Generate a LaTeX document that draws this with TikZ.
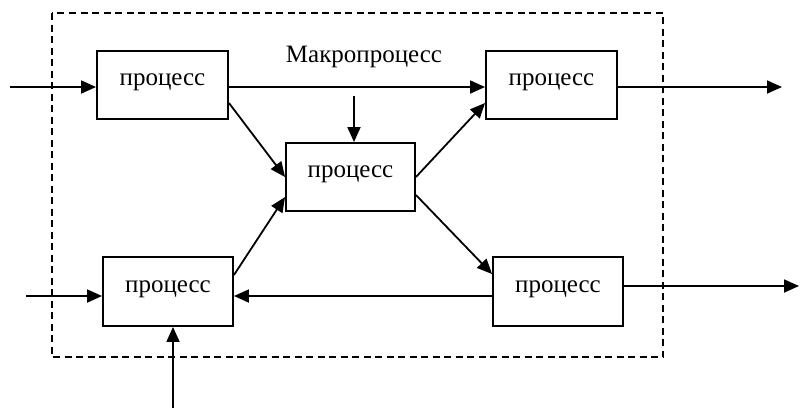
\documentclass[tikz,border=0pt]{standalone}
\usepackage{fontspec}
\setmainfont{Liberation Serif}
\usetikzlibrary{arrows.meta,calc}
\begin{document}
\begin{tikzpicture}[x=1pt,y=-1pt,
  proc/.style={draw,line width=1.9pt,rectangle,minimum width=131pt,minimum height=68pt,
    inner sep=0pt,text height=11.5pt,text depth=10pt,font=\fontsize{25}{30}\selectfont},
  arr/.style={line width=1.8pt,-{Triangle[length=15pt,width=13pt]}},
  frame/.style={line width=1.8pt,dash pattern=on 7pt off 4.5pt}]
\useasboundingbox (0,0) rectangle (800,408);
\draw[frame] (52,13) rectangle (663,357);
\node[proc] (tl) at (162.5,85) {процесс};
\node[proc] (tr) at (551.5,85) {процесс};
\node[proc,minimum width=129pt] (c) at (350.5,177) {процесс};
\node[proc,minimum width=130pt,minimum height=69pt] (bl) at (168,291.5) {процесс};
\node[proc,minimum width=130pt,minimum height=69pt] (br) at (558,291.5) {процесс};
\node[font=\fontsize{25}{30}\selectfont,inner sep=0pt,anchor=base] (macro) at (364,62) {Макропроцесс};
\coordinate (inA) at (10,87);
\coordinate (outA) at (782,87);
\coordinate (vtop) at (354,96);
\coordinate (inB) at (26,296);
\coordinate (inC) at (173,408);
\coordinate (outB) at (799,286);
\draw[arr] (inA) -- (inA -| tl.west);
\draw[arr] (tl.east |- inA) -- (tr.west |- inA);
\draw[arr] (tr.east |- inA) -- (outA);
\draw[arr] (vtop) -- (vtop |- c.north);
\draw[arr] ($(tl.east)+(0,18)$) -- (c.west);
\draw[arr] (c.east) -- ($(tr.west)+(0,18)$);
\draw[arr] ($(c.east)+(0,18)$) -- ($(br.west)+(0,-17.5)$);
\draw[arr] ($(br.west)+(0,4.5)$) -- ($(bl.east)+(0,4.5)$);
\draw[arr] ($(bl.east)+(0,-16.5)$) -- ($(c.west)+(0,20)$);
\draw[arr] (inB) -- (inB -| bl.west);
\draw[arr] (inC) -- (inC |- bl.south);
\draw[arr] (br.east |- outB) -- (outB);
\end{tikzpicture}
\end{document}
